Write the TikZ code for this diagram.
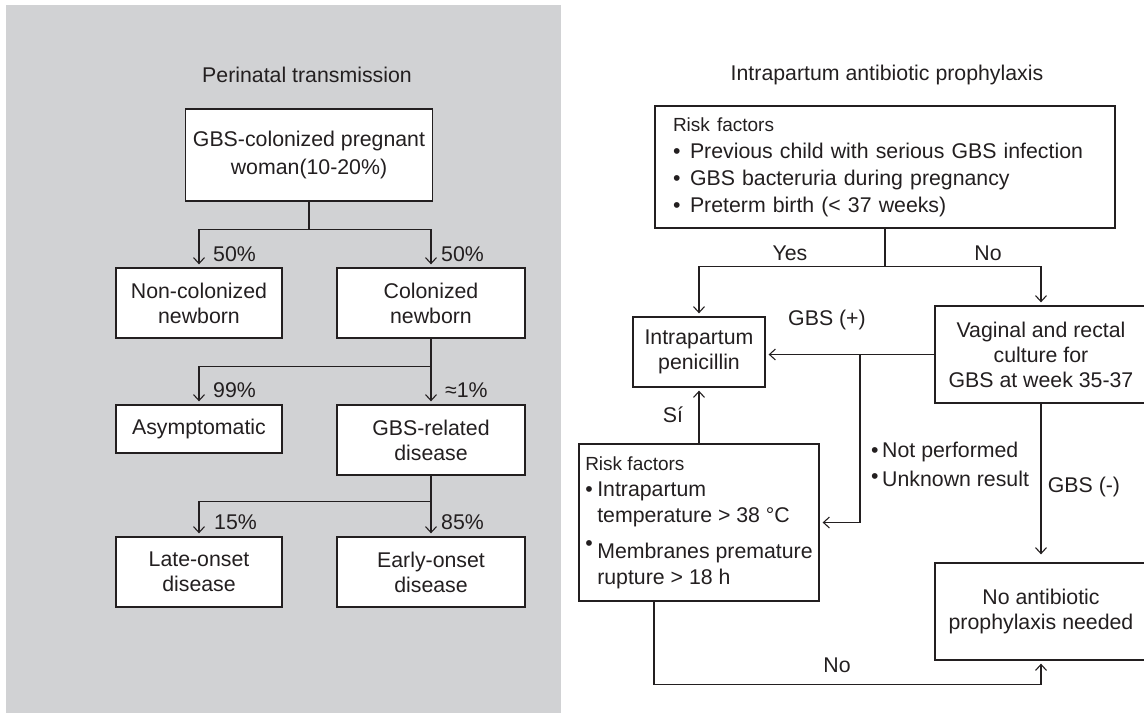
\documentclass[tikz,border=0pt]{standalone}
\usepackage{fontspec}
\setmainfont{Liberation Sans}
\usepackage{tikz}
\usetikzlibrary{arrows.meta,positioning,calc}
\definecolor{panelgray}{HTML}{D1D2D4}
\definecolor{ink}{HTML}{231F20}
\newcommand{\bul}[1][17pt]{\makebox[#1][l]{•}}
\tikzset{
    box/.style={rectangle, draw=ink, fill=white, line width=1.3pt, text=ink, align=center, inner sep=0pt, font=\fontsize{21.3}{25}\selectfont},
    line/.style={draw=ink, line width=1.3pt},
    arr/.style={line, -{Straight Barb[length=6pt,width=11pt,line width=1.1pt]}, shorten >=3pt},
    pct/.style={text=ink, inner sep=0pt, font=\fontsize{21.3}{25}\selectfont},
    heading/.style={pct}
}
\begin{document}
\begin{tikzpicture}[x=1pt,y=-1pt]
\useasboundingbox (0,0) rectangle (1144,713);
\fill[panelgray] (6,5) rectangle (561,713);

% Perinatal transmission
\node[heading] (ttlA) at (307,75) {Perinatal transmission};
\node[box, minimum width=247pt, minimum height=92pt, font=\fontsize{21.3}{28.7}\selectfont] (woman) at (309,155) {GBS-colonized pregnant\\woman(10-20\%)};
\node[box, minimum width=166pt, minimum height=70pt] (noncol) at (199,303) {Non-colonized\\newborn};
\node[box, minimum width=188pt, minimum height=70pt] (col) at (431,303) {Colonized\\newborn};
\node[box, minimum width=166pt, minimum height=48pt] (asym) at (199,429) {Asymptomatic};
\node[box, minimum width=188pt, minimum height=70pt] (gbsdis) at (431,440) {GBS-related\\disease};
\node[box, minimum width=166pt, minimum height=70pt] (late) at (199,572) {Late-onset\\disease};
\node[box, minimum width=188pt, minimum height=70pt] (early) at (431,572) {Early-onset\\disease};

\draw[line] (woman.south) -- ++(0,28) coordinate (splitA);
\draw[arr] (splitA) -| (noncol.north);
\draw[arr] (splitA) -| (col.north);
\draw[line] (col.south) -- ++(0,28) coordinate (splitB);
\draw[arr] (splitB) -| (asym.north);
\draw[arr] (col.south) -- (gbsdis.north);
\draw[line] (gbsdis.south) -- ++(0,26) coordinate (splitC);
\draw[arr] (splitC) -| (late.north);
\draw[arr] (gbsdis.south) -- (early.north);

\node[pct, anchor=west] (pA) at (213,254) {50\%};
\node[pct, anchor=west] (pB) at (441,254) {50\%};
\node[pct, anchor=west] (pC) at (213,390) {99\%};
\node[pct, anchor=west] (pD) at (445,390) {≈1\%};
\node[pct, anchor=west] (pE) at (214,522) {15\%};
\node[pct, anchor=west] (pF) at (441,522) {85\%};

% Intrapartum antibiotic prophylaxis
\node[heading] (ttlB) at (887,75) {Intrapartum antibiotic prophylaxis};
\node[box, text width=424pt, inner xsep=18pt, minimum height=122pt, align=left, font=\fontsize{21.3}{27}\selectfont] (risk) at (885,167)
  {{\fontsize{19}{27}\selectfont Risk factors}\\
   \bul Previous child with serious GBS infection\\
   \bul GBS bacteruria during pregnancy\\
   \bul Preterm birth (< 37 weeks)};
\node[box, minimum width=132pt, minimum height=70pt] (pen) at (699,352) {Intrapartum\\penicillin};
\node[box, minimum width=212pt, minimum height=97pt] (culture) at (1041,354.5) {Vaginal and rectal\\culture for\\GBS at week 35-37};
\node[box, minimum width=240pt, minimum height=157pt, align=left, font=\fontsize{21.3}{26}\selectfont] (risk2) at (699,522.5)
  {{\fontsize{19}{26}\selectfont Risk factors}\\
   \bul[12pt]Intrapartum\\
   \hspace*{12pt}temperature > 38 °C\\[10pt]
   \makebox[12pt][l]{\raisebox{8pt}{•}}Membranes premature\\
   \hspace*{12pt}rupture > 18 h};
\node[box, minimum width=212pt, minimum height=97pt] (noab) at (1041,611.5) {No antibiotic\\prophylaxis needed};

\draw[line] (risk.south) -- ++(0,38) coordinate (yesno);
\draw[arr] (yesno) -| (pen.north);
\draw[arr] (yesno) -| (culture.north);
\node[pct] (yes) at (790,253) {Yes};
\node[pct] (noA) at (988,253) {No};

\draw[arr] (culture.west) -- (culture.west -| pen.east);
\coordinate (fork) at (860,354.5);
\draw[arr] (fork) |- (risk2.east);
\node[pct] (gbsp) at (827,320) {GBS (+)};
\node[pct, align=left, anchor=west, font=\fontsize{21.3}{29}\selectfont] (unknown) at (871,464.5)
  {\bul[11pt]Not performed\\ \makebox[11pt][l]{\raisebox{3pt}{•}}Unknown result};

\draw[arr] (risk2.north) -- (pen.south);
\node[pct] (si) at (673,415) {Sí};

\draw[arr, shorten >=8pt] (culture.south) -- (noab.north);
\node[pct] (gbsm) at (1084,487) {GBS (-)};

\draw[arr] ([xshift=-45pt]risk2.south) -- ++(0,83) -| (noab.south);
\node[pct] (noB) at (837,665) {No};
\end{tikzpicture}
\end{document}
